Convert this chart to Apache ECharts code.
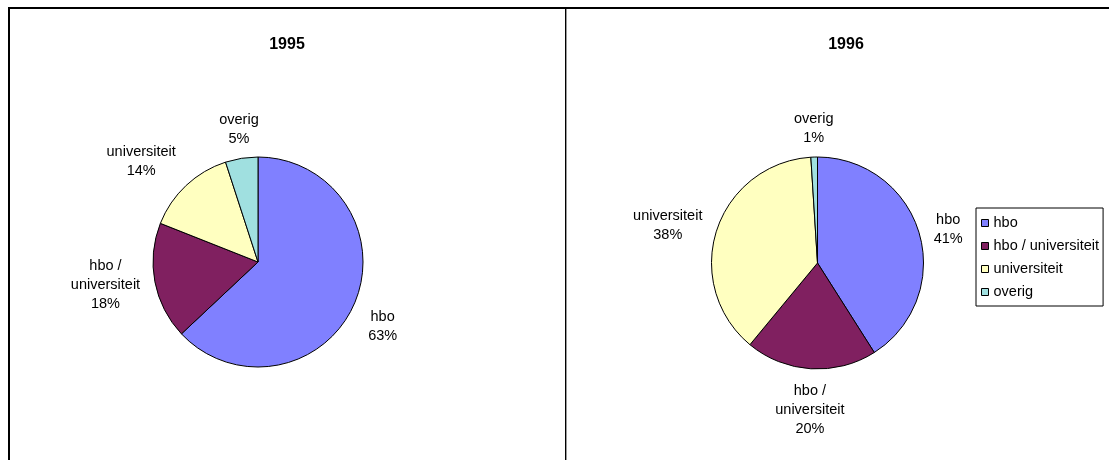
<!DOCTYPE html>
<html>
<head>
<meta charset="utf-8">
<script src="https://cdn.jsdelivr.net/npm/echarts@6/dist/echarts.min.js"></script>
<style>
  html, body { margin: 0; padding: 0; background: #fff; }
  #chart { width: 1109px; height: 460px; }
</style>
</head>
<body>
<div id="chart"></div>
<script>
// categorieën en aandelen (%) per jaar
var categories = ['hbo', 'hbo / universiteit', 'universiteit', 'overig'];
var years = ['1995', '1996'];
var values1995 = [63, 18, 14, 5];
var values1996 = [41, 20, 38, 1];
var colors = ['#8080FF', '#802060', '#FFFFC0', '#A0E0E0'];

var font = '"Liberation Sans", Arial, sans-serif';

// plaats en grootte van de twee taarten
var pies = [
  { center: [258, 262], radius: 105 },
  { center: [817.5, 263], radius: 106 }
];
var gap = 15; // afstand cirkelrand -> labelkader

var chartDom = document.getElementById('chart');
var myChart = echarts.init(chartDom);

function toData(vals) {
  return vals.map(function (v, i) {
    return { name: categories[i], value: v };
  });
}

function clamp(v, lo, hi) { return Math.max(lo, Math.min(hi, v)); }

// label buiten de cirkel op de bisectrice van het segment, kader naar buiten geschoven (ongeveer zoals Excel)
function placeLabel(params) {
  var pts = params.labelLinePoints;
  if (!pts) return {};
  var c = pies[params.seriesIndex].center;
  var dx = pts[0][0] - c[0], dy = pts[0][1] - c[1];
  var len = Math.sqrt(dx * dx + dy * dy) || 1;
  dx /= len; dy /= len;
  var px = pts[0][0] + dx * gap, py = pts[0][1] + dy * gap;
  var w = params.labelRect.width / 2;
  var h = params.labelRect.height / 2 - 2;
  var fx = clamp((Math.abs(dx) - 0.15) * 1.9, 0, 1) * (dx < 0 ? -1 : 1);
  var fy = dy > 0
    ? clamp((dy - 0.18) * 5, 0, 1)
    : -clamp((-dy - 0.4) * 2.25, 0, 0.8);
  return { x: px + w * fx, y: py + h * fy, align: 'center', verticalAlign: 'middle' };
}

function pieSeries(idx, vals) {
  return {
    name: years[idx],
    type: 'pie',
    center: pies[idx].center,
    radius: pies[idx].radius,
    startAngle: 90,
    clockwise: true,
    avoidLabelOverlap: false,
    percentPrecision: 0,
    data: toData(vals),
    itemStyle: { borderColor: '#000', borderWidth: 1 },
    label: {
      show: true,
      position: 'outside',
      color: '#000',
      fontFamily: font,
      fontSize: 14.5,
      lineHeight: 19,
      formatter: function (p) {
        return p.name.replace(' / ', ' /\n') + '\n' + p.percent + '%';
      }
    },
    labelLine: { show: true, length: 10, length2: 5, lineStyle: { opacity: 0 } },
    labelLayout: placeLabel,
    emphasis: { disabled: true },
    animation: false
  };
}

var option = {
  backgroundColor: '#fff',
  color: colors,
  animation: false,
  title: [
    {
      text: years[0], left: 287, top: 36, textAlign: 'center', padding: 0,
      textStyle: { fontFamily: font, fontSize: 16, fontWeight: 'bold', color: '#000', lineHeight: 18 }
    },
    {
      text: years[1], left: 846, top: 36, textAlign: 'center', padding: 0,
      textStyle: { fontFamily: font, fontSize: 16, fontWeight: 'bold', color: '#000', lineHeight: 18 }
    }
  ],
  legend: {
    orient: 'vertical',
    left: 976,
    top: 208,
    data: categories,
    icon: 'rect',
    itemWidth: 7,
    itemHeight: 7,
    itemGap: 7,
    padding: [7, 4, 6, 5],
    backgroundColor: '#fff',
    borderColor: '#000',
    borderWidth: 1,
    borderRadius: 0,
    selectedMode: false,
    itemStyle: { borderColor: '#000', borderWidth: 1 },
    textStyle: { fontFamily: font, fontSize: 14.5, color: '#000', lineHeight: 16 }
  },
  // kaderlijnen van de twee grafiekvlakken
  graphic: [
    { type: 'rect', silent: true, shape: { x: 8, y: 7, width: 1101, height: 2 }, style: { fill: '#000' } },
    { type: 'rect', silent: true, shape: { x: 8, y: 7, width: 2, height: 453 }, style: { fill: '#000' } },
    { type: 'rect', silent: true, shape: { x: 565, y: 7, width: 1, height: 453 }, style: { fill: '#000' } },
    { type: 'rect', silent: true, shape: { x: 566, y: 9, width: 1, height: 451 }, style: { fill: '#9a9a9a' } }
  ],
  series: [
    pieSeries(0, values1995),
    pieSeries(1, values1996)
  ]
};

option && myChart.setOption(option);
</script>
</body>
</html>
